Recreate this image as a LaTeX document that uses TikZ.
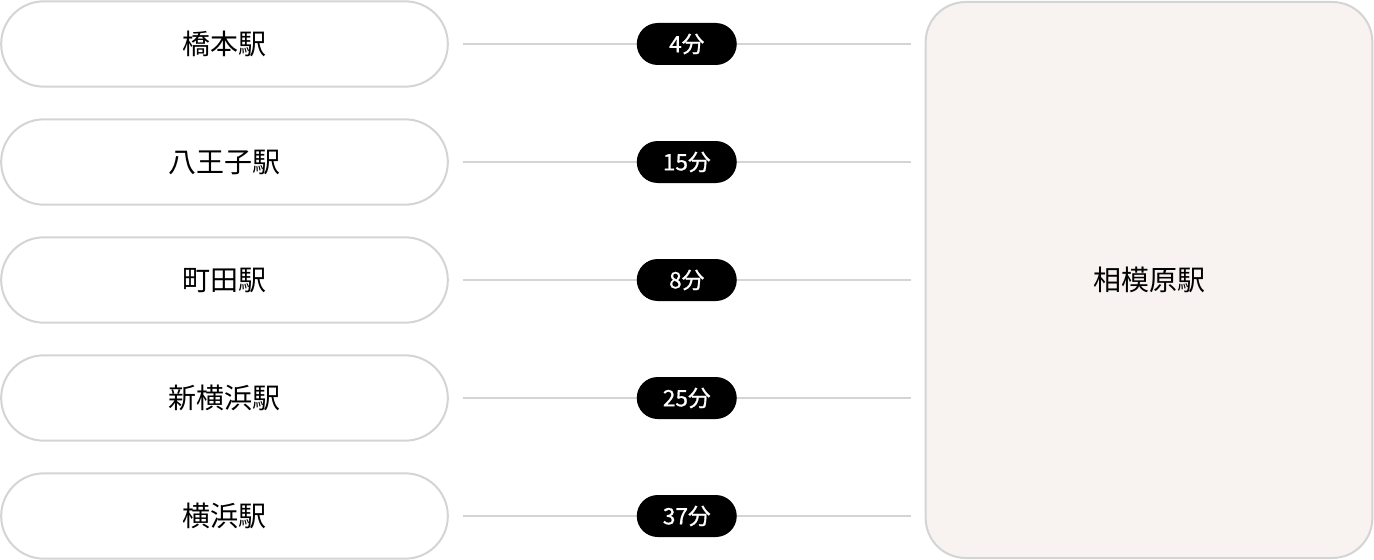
\documentclass[tikz,border=0pt]{standalone}
\usepackage{fontspec}
\setmainfont{Noto Sans CJK JP}
\newfontfamily\badgefont[FakeBold=0.8]{Noto Sans CJK JP}
\definecolor{pillline}{RGB}{212,212,212}
\definecolor{hubfill}{RGB}{248,243,241}
\tikzset{
  station/.style={draw=pillline, line width=1.5, fill=white, rounded corners=32pt,
    minimum width=335pt, minimum height=64pt, inner sep=0pt, font=\fontsize{21}{24}\selectfont},
  hub/.style={draw=pillline, line width=1.5, fill=hubfill, rounded corners=30pt,
    minimum width=335pt, minimum height=417pt, inner sep=0pt, font=\fontsize{21}{24}\selectfont},
  link/.style={draw=pillline, line width=1.2, shorten <=10.5pt, shorten >=10.5pt},
  badge/.style={fill=black, text=white, rounded corners=15.75pt, minimum width=75pt,
    minimum height=31.5pt, inner sep=0pt, font=\badgefont\fontsize{17}{19}\selectfont},
}

\begin{document}
\begin{tikzpicture}[x=0.75pt,y=0.75pt,yscale=-1,xscale=1]
\useasboundingbox (0,0) rectangle (1374,560);

%Shape: Hub
\node[hub] (sagamihara) at (1149,280) {相模原駅};

%Shape: Stations
\node[station] (hashimoto) at (224.5,44) {橋本駅};
\node[station] (hachioji) at (224.5,162) {八王子駅};
\node[station] (machida) at (224.5,280) {町田駅};
\node[station] (shinyoko) at (224.5,398) {新横浜駅};
\node[station] (yokohama) at (224.5,516) {横浜駅};

%Straight Lines with time badges
\draw[link] (hashimoto.east) -- (hashimoto.east -| sagamihara.west) node[badge, midway] {4分};
\draw[link] (hachioji.east) -- (hachioji.east -| sagamihara.west) node[badge, midway] {15分};
\draw[link] (machida.east) -- (machida.east -| sagamihara.west) node[badge, midway] {8分};
\draw[link] (shinyoko.east) -- (shinyoko.east -| sagamihara.west) node[badge, midway] {25分};
\draw[link] (yokohama.east) -- (yokohama.east -| sagamihara.west) node[badge, midway] {37分};

\end{tikzpicture}
\end{document}
